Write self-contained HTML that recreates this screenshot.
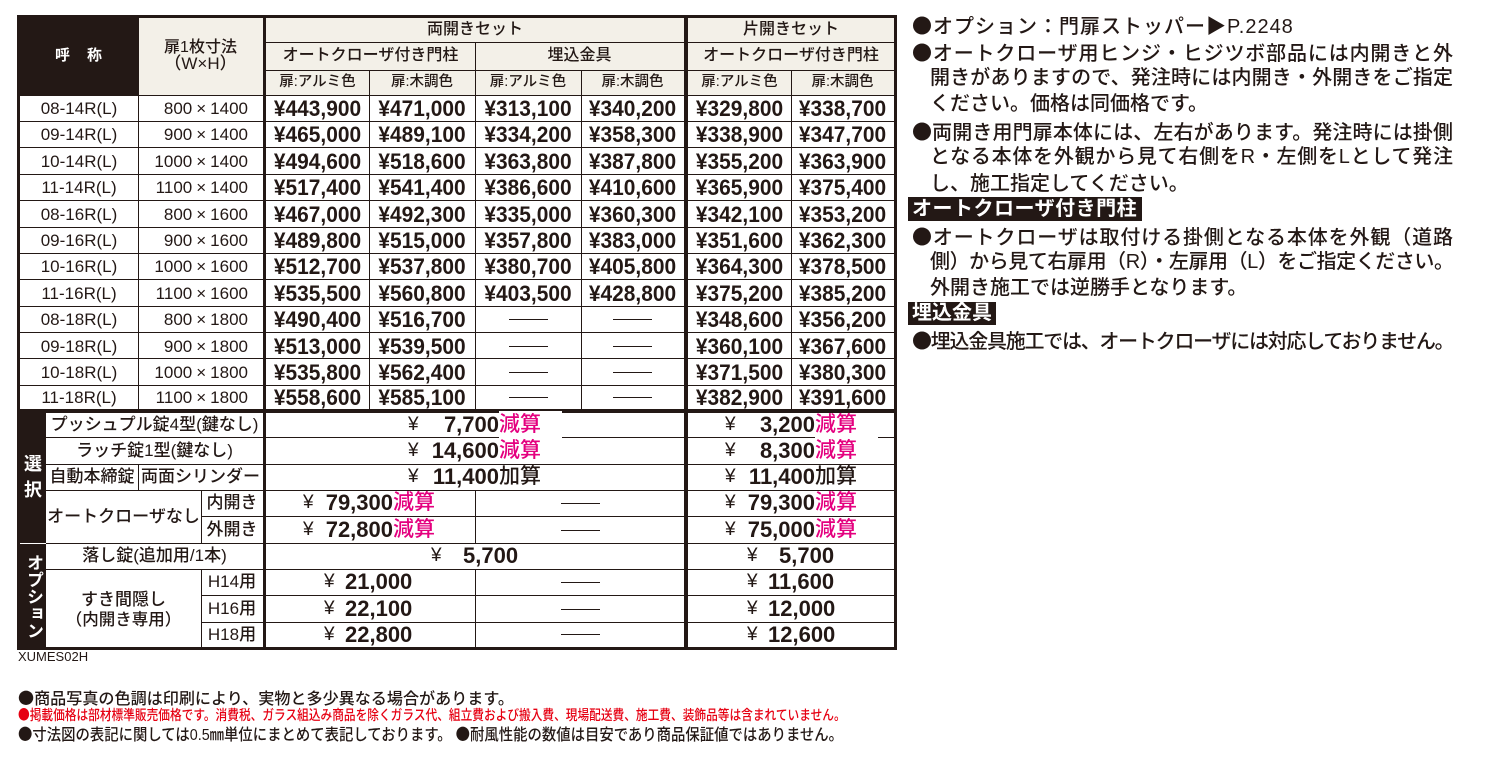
<!DOCTYPE html>
<html><head><meta charset="utf-8">
<style>
*{margin:0;padding:0;box-sizing:border-box}
body{width:1490px;height:767px;overflow:hidden;background:#fff;position:relative;font-family:"Liberation Sans","Noto Sans CJK JP",sans-serif;color:#231815;font-weight:500}
.b{font-family:"Noto Sans CJK JP",sans-serif}
.a{position:absolute;white-space:nowrap}
.h{position:absolute;height:1px;background:#231815}
.v{position:absolute;width:1px;background:#231815}
.bk{position:absolute;background:#231815}
.cr{position:absolute;background:#f3f0e8}
.r{position:absolute;left:0;width:900px;height:26.4px}
.r>div{position:absolute;top:0;height:26.4px;line-height:27px;text-align:center;white-space:nowrap}
.k1{left:20px;width:118px;font-size:17px}
.k2{left:138px;width:110px;font-size:17px;text-align:right!important}
.p{font-weight:bold;font-size:22px;transform:scaleX(0.95)}
.p1{left:266px;width:103px}.p2{left:369px;width:106px}.p3{left:475px;width:106px}.p4{left:581px;width:103px}.p5{left:688px;width:103px}.p6{left:791px;width:103px}
.x{margin:0 4px}
.d{display:inline-block;width:39px;height:1px;background:#231815;vertical-align:middle}
.hd{position:absolute;text-align:center;white-space:nowrap;font-size:16px}
.sh{position:absolute;text-align:center;white-space:nowrap;font-size:14.5px;top:70px;height:25px;line-height:25px}
.s{position:absolute;white-space:nowrap;text-align:center;font-size:17px}
.y{position:absolute;font-size:19px;white-space:nowrap;font-weight:normal}
.nm{position:absolute;font-weight:bold;font-size:22px;white-space:nowrap}
.nr{position:absolute;font-weight:bold;font-size:22px;white-space:nowrap;width:80px;text-align:right}
.g{position:absolute;font-size:21px;color:#e4007f;white-space:nowrap}
.gk{position:absolute;font-size:21px;white-space:nowrap}
.dd{position:absolute;width:39px;height:1px;background:#231815}
.n{position:absolute;font-size:20px;line-height:26px;height:26px}
.j{text-align:justify;text-align-last:justify}
.lb{position:absolute;background:#231815;color:#fff;font-size:20px;font-weight:bold;white-space:nowrap;padding-left:4px}
.f{position:absolute;white-space:nowrap;transform-origin:0 50%}
</style></head>
<body>

<!-- backgrounds -->
<div class="bk" style="left:20px;top:18px;width:118px;height:77px"></div>
<div class="cr" style="left:138px;top:18px;width:125px;height:77px"></div>
<div class="cr" style="left:266px;top:18px;width:418px;height:77px"></div>
<div class="cr" style="left:688px;top:18px;width:206px;height:77px"></div>
<div class="bk" style="left:20px;top:412px;width:26px;height:235px"></div>

<!-- outer frame -->
<div class="bk" style="left:17px;top:15px;width:880px;height:3px"></div>
<div class="bk" style="left:17px;top:647px;width:880px;height:3px"></div>
<div class="bk" style="left:17px;top:15px;width:3px;height:635px"></div>
<div class="bk" style="left:894px;top:15px;width:3px;height:635px"></div>

<!-- thick verticals -->
<div class="bk" style="left:263px;top:18px;width:3px;height:629px"></div>
<div class="bk" style="left:684px;top:18px;width:4px;height:629px"></div>

<!-- thin verticals -->
<div class="v" style="left:138px;top:18px;height:392px"></div>
<div class="v" style="left:138px;top:464px;height:26px"></div>
<div class="v" style="left:369px;top:70px;height:340px"></div>
<div class="v" style="left:475px;top:42px;height:368px"></div>
<div class="v" style="left:475px;top:490px;height:53px"></div>
<div class="v" style="left:475px;top:569px;height:78px"></div>
<div class="v" style="left:581px;top:70px;height:340px"></div>
<div class="v" style="left:791px;top:70px;height:340px"></div>
<div class="v" style="left:201px;top:490px;height:53px"></div>
<div class="v" style="left:201px;top:569px;height:78px"></div>

<!-- horizontals header -->
<div class="h" style="left:266px;top:42px;width:628px"></div>
<div class="h" style="left:266px;top:70px;width:628px"></div>
<div class="h" style="left:20px;top:95px;width:874px"></div>
<!-- data rows -->
<div class="h" style="left:20px;top:121px;width:874px"></div>
<div class="h" style="left:20px;top:147px;width:874px"></div>
<div class="h" style="left:20px;top:174px;width:874px"></div>
<div class="h" style="left:20px;top:200px;width:874px"></div>
<div class="h" style="left:20px;top:227px;width:874px"></div>
<div class="h" style="left:20px;top:253px;width:874px"></div>
<div class="h" style="left:20px;top:279px;width:874px"></div>
<div class="h" style="left:20px;top:306px;width:874px"></div>
<div class="h" style="left:20px;top:332px;width:874px"></div>
<div class="h" style="left:20px;top:358px;width:874px"></div>
<div class="h" style="left:20px;top:385px;width:874px"></div>
<!-- thick separator -->
<div class="bk" style="left:20px;top:409px;width:874px;height:2px"></div>
<div class="bk" style="left:20px;top:411px;width:479px;height:1.5px"></div>
<div class="bk" style="left:562px;top:411px;width:332px;height:1.5px"></div>
<!-- selection rows -->
<div class="h" style="left:46px;top:437px;width:453px"></div>
<div class="h" style="left:562px;top:437px;width:253px"></div>
<div class="h" style="left:878px;top:437px;width:16px"></div>
<div class="h" style="left:46px;top:464px;width:848px"></div>
<div class="h" style="left:46px;top:490px;width:848px"></div>
<div class="h" style="left:201px;top:516px;width:693px"></div>
<div class="h" style="left:46px;top:543px;width:848px"></div>
<div style="position:absolute;left:20px;top:542.5px;width:26px;height:1.5px;background:#fff"></div>
<div class="h" style="left:46px;top:569px;width:848px"></div>
<div class="h" style="left:201px;top:595px;width:693px"></div>
<div class="h" style="left:201px;top:622px;width:693px"></div>

<!-- header texts -->
<div class="hd" style="left:20px;width:118px;top:44px;height:24px;line-height:24px;color:#fff;font-weight:bold;font-size:15px;letter-spacing:1px">呼　称</div>
<div class="hd" style="left:138px;width:125px;top:38px;height:20px;line-height:20px">扉1枚寸法</div>
<div class="hd" style="left:138px;width:125px;top:54px;height:20px;line-height:20px;font-size:17px">（W×H）</div>
<div class="hd" style="left:266px;width:418px;top:18px;height:24px;line-height:24px">両開きセット</div>
<div class="hd" style="left:688px;width:206px;top:18px;height:24px;line-height:24px">片開きセット</div>
<div class="hd" style="left:266px;width:209px;top:42px;height:28px;line-height:28px">オートクローザ付き門柱</div>
<div class="hd" style="left:475px;width:209px;top:42px;height:28px;line-height:28px">埋込金具</div>
<div class="hd" style="left:688px;width:206px;top:42px;height:28px;line-height:28px">オートクローザ付き門柱</div>
<div class="sh p1">扉:アルミ色</div><div class="sh p2">扉:木調色</div>
<div class="sh p3">扉:アルミ色</div><div class="sh p4">扉:木調色</div>
<div class="sh p5">扉:アルミ色</div><div class="sh p6">扉:木調色</div>

<!-- data rows -->
<div class="r" style="top:95px"><div class="k1">08-14R(L)</div><div class="k2">800<span class="x">×</span>1400</div><div class="p p1">¥443,900</div><div class="p p2">¥471,000</div><div class="p p3">¥313,100</div><div class="p p4">¥340,200</div><div class="p p5">¥329,800</div><div class="p p6">¥338,700</div></div>
<div class="r" style="top:121.4px"><div class="k1">09-14R(L)</div><div class="k2">900<span class="x">×</span>1400</div><div class="p p1">¥465,000</div><div class="p p2">¥489,100</div><div class="p p3">¥334,200</div><div class="p p4">¥358,300</div><div class="p p5">¥338,900</div><div class="p p6">¥347,700</div></div>
<div class="r" style="top:147.8px"><div class="k1">10-14R(L)</div><div class="k2">1000<span class="x">×</span>1400</div><div class="p p1">¥494,600</div><div class="p p2">¥518,600</div><div class="p p3">¥363,800</div><div class="p p4">¥387,800</div><div class="p p5">¥355,200</div><div class="p p6">¥363,900</div></div>
<div class="r" style="top:174.2px"><div class="k1">11-14R(L)</div><div class="k2">1100<span class="x">×</span>1400</div><div class="p p1">¥517,400</div><div class="p p2">¥541,400</div><div class="p p3">¥386,600</div><div class="p p4">¥410,600</div><div class="p p5">¥365,900</div><div class="p p6">¥375,400</div></div>
<div class="r" style="top:200.6px"><div class="k1">08-16R(L)</div><div class="k2">800<span class="x">×</span>1600</div><div class="p p1">¥467,000</div><div class="p p2">¥492,300</div><div class="p p3">¥335,000</div><div class="p p4">¥360,300</div><div class="p p5">¥342,100</div><div class="p p6">¥353,200</div></div>
<div class="r" style="top:227px"><div class="k1">09-16R(L)</div><div class="k2">900<span class="x">×</span>1600</div><div class="p p1">¥489,800</div><div class="p p2">¥515,000</div><div class="p p3">¥357,800</div><div class="p p4">¥383,000</div><div class="p p5">¥351,600</div><div class="p p6">¥362,300</div></div>
<div class="r" style="top:253.4px"><div class="k1">10-16R(L)</div><div class="k2">1000<span class="x">×</span>1600</div><div class="p p1">¥512,700</div><div class="p p2">¥537,800</div><div class="p p3">¥380,700</div><div class="p p4">¥405,800</div><div class="p p5">¥364,300</div><div class="p p6">¥378,500</div></div>
<div class="r" style="top:279.8px"><div class="k1">11-16R(L)</div><div class="k2">1100<span class="x">×</span>1600</div><div class="p p1">¥535,500</div><div class="p p2">¥560,800</div><div class="p p3">¥403,500</div><div class="p p4">¥428,800</div><div class="p p5">¥375,200</div><div class="p p6">¥385,200</div></div>
<div class="r" style="top:306.2px"><div class="k1">08-18R(L)</div><div class="k2">800<span class="x">×</span>1800</div><div class="p p1">¥490,400</div><div class="p p2">¥516,700</div><div class="p3"><span class="d"></span></div><div class="p4"><span class="d"></span></div><div class="p p5">¥348,600</div><div class="p p6">¥356,200</div></div>
<div class="r" style="top:332.6px"><div class="k1">09-18R(L)</div><div class="k2">900<span class="x">×</span>1800</div><div class="p p1">¥513,000</div><div class="p p2">¥539,500</div><div class="p3"><span class="d"></span></div><div class="p4"><span class="d"></span></div><div class="p p5">¥360,100</div><div class="p p6">¥367,600</div></div>
<div class="r" style="top:359px"><div class="k1">10-18R(L)</div><div class="k2">1000<span class="x">×</span>1800</div><div class="p p1">¥535,800</div><div class="p p2">¥562,400</div><div class="p3"><span class="d"></span></div><div class="p4"><span class="d"></span></div><div class="p p5">¥371,500</div><div class="p p6">¥380,300</div></div>
<div class="r" style="top:385.4px;height:24px"><div class="k1" style="height:24px;line-height:25px">11-18R(L)</div><div class="k2" style="height:24px;line-height:25px">1100<span class="x">×</span>1800</div><div class="p p1" style="height:24px;line-height:25px">¥558,600</div><div class="p p2" style="height:24px;line-height:25px">¥585,100</div><div class="p3" style="height:24px;line-height:24px"><span class="d"></span></div><div class="p4" style="height:24px;line-height:24px"><span class="d"></span></div><div class="p p5" style="height:24px;line-height:25px">¥382,900</div><div class="p p6" style="height:24px;line-height:25px">¥391,600</div></div>

<!-- vertical labels -->
<div class="a" style="left:20px;width:26px;top:453px;height:22px;line-height:22px;text-align:center;color:#fff;font-weight:bold;font-size:18px">選</div>
<div class="a" style="left:20px;width:26px;top:479px;height:22px;line-height:22px;text-align:center;color:#fff;font-weight:bold;font-size:18px">択</div>
<div class="a" style="left:20px;width:26px;top:552px;height:88px;color:#fff;font-weight:bold;font-size:17px;line-height:26px;writing-mode:vertical-rl;text-orientation:upright;text-align:center">オプション</div>

<!-- selection labels -->
<div class="s" style="left:46px;width:217px;top:412px;height:25px;line-height:25px">プッシュプル錠4型(鍵なし)</div>
<div class="s" style="left:46px;width:217px;top:437px;height:27px;line-height:27px">ラッチ錠1型(鍵なし)</div>
<div class="s" style="left:46px;width:92px;top:464px;height:26px;line-height:26px">自動本締錠</div>
<div class="s" style="left:138px;width:125px;top:464px;height:26px;line-height:26px">両面シリンダー</div>
<div class="s" style="left:46px;width:155px;top:490px;height:53px;line-height:53px">オートクローザなし</div>
<div class="s" style="left:201px;width:62px;top:490px;height:26.5px;line-height:26.5px">内開き</div>
<div class="s" style="left:201px;width:62px;top:516.5px;height:26.5px;line-height:26.5px">外開き</div>
<div class="s" style="left:46px;width:217px;top:543px;height:26px;line-height:26px">落し錠(追加用/1本)</div>
<div class="s" style="left:46px;width:155px;top:590px;height:20px;line-height:20px">すき間隠し</div>
<div class="s" style="left:46px;width:155px;top:610px;height:20px;line-height:20px;font-size:16.5px">（内開き専用）</div>
<div class="s" style="left:201px;width:62px;top:569px;height:26.5px;line-height:26.5px">H14用</div>
<div class="s" style="left:201px;width:62px;top:595.5px;height:26.5px;line-height:26.5px">H16用</div>
<div class="s" style="left:201px;width:62px;top:622px;height:25px;line-height:25px">H18用</div>

<!-- selection values row0 -->
<div class="y" style="left:408px;top:412px;line-height:25px">¥</div>
<div class="nr" style="left:419px;top:412px;line-height:25px">7,700</div>
<div class="g" style="left:499px;top:412px;line-height:25px">減算</div>
<div class="y" style="left:725px;top:412px;line-height:25px">¥</div>
<div class="nr" style="left:735px;top:412px;line-height:25px">3,200</div>
<div class="g" style="left:815px;top:412px;line-height:25px">減算</div>
<!-- row1 -->
<div class="y" style="left:408px;top:437px;line-height:27px">¥</div>
<div class="nr" style="left:419px;top:437px;line-height:27px">14,600</div>
<div class="g" style="left:499px;top:437px;line-height:27px">減算</div>
<div class="y" style="left:725px;top:437px;line-height:27px">¥</div>
<div class="nr" style="left:735px;top:437px;line-height:27px">8,300</div>
<div class="g" style="left:815px;top:437px;line-height:27px">減算</div>
<!-- row2 -->
<div class="y" style="left:408px;top:464px;line-height:26px">¥</div>
<div class="nr" style="left:419px;top:464px;line-height:26px">11,400</div>
<div class="gk" style="left:499px;top:464px;line-height:26px">加算</div>
<div class="y" style="left:725px;top:464px;line-height:26px">¥</div>
<div class="nr" style="left:735px;top:464px;line-height:26px">11,400</div>
<div class="gk" style="left:815px;top:464px;line-height:26px">加算</div>
<!-- row3 -->
<div class="y" style="left:303px;top:490px;line-height:26.5px">¥</div>
<div class="nr" style="left:313px;top:490px;line-height:26.5px">79,300</div>
<div class="g" style="left:393px;top:490px;line-height:26.5px">減算</div>
<div class="dd" style="left:561px;top:503px"></div>
<div class="y" style="left:725px;top:490px;line-height:26.5px">¥</div>
<div class="nr" style="left:735px;top:490px;line-height:26.5px">79,300</div>
<div class="g" style="left:815px;top:490px;line-height:26.5px">減算</div>
<!-- row4 -->
<div class="y" style="left:303px;top:516.5px;line-height:26.5px">¥</div>
<div class="nr" style="left:313px;top:516.5px;line-height:26.5px">72,800</div>
<div class="g" style="left:393px;top:516.5px;line-height:26.5px">減算</div>
<div class="dd" style="left:561px;top:530px"></div>
<div class="y" style="left:725px;top:516.5px;line-height:26.5px">¥</div>
<div class="nr" style="left:735px;top:516.5px;line-height:26.5px">75,000</div>
<div class="g" style="left:815px;top:516.5px;line-height:26.5px">減算</div>
<!-- row5 -->
<div class="y" style="left:431px;top:543px;line-height:26px">¥</div>
<div class="nm" style="left:463px;top:543px;line-height:26px">5,700</div>
<div class="y" style="left:747px;top:543px;line-height:26px">¥</div>
<div class="nm" style="left:779px;top:543px;line-height:26px">5,700</div>
<!-- row6 -->
<div class="y" style="left:324px;top:569px;line-height:26.5px">¥</div>
<div class="nm" style="left:345px;top:569px;line-height:26.5px">21,000</div>
<div class="dd" style="left:561px;top:582px"></div>
<div class="y" style="left:747px;top:569px;line-height:26.5px">¥</div>
<div class="nm" style="left:768px;top:569px;line-height:26.5px">11,600</div>
<!-- row7 -->
<div class="y" style="left:324px;top:595.5px;line-height:26.5px">¥</div>
<div class="nm" style="left:345px;top:595.5px;line-height:26.5px">22,100</div>
<div class="dd" style="left:561px;top:609px"></div>
<div class="y" style="left:747px;top:595.5px;line-height:26.5px">¥</div>
<div class="nm" style="left:768px;top:595.5px;line-height:26.5px">12,000</div>
<!-- row8 -->
<div class="y" style="left:324px;top:622px;line-height:25px">¥</div>
<div class="nm" style="left:345px;top:622px;line-height:25px">22,800</div>
<div class="dd" style="left:561px;top:634px"></div>
<div class="y" style="left:747px;top:622px;line-height:25px">¥</div>
<div class="nm" style="left:768px;top:622px;line-height:25px">12,600</div>

<!-- right notes -->
<div class="n" style="left:912px;top:12px;white-space:nowrap;letter-spacing:1px"><span class="b">●</span>オプション：門扉ストッパー▶P.2248</div>
<div class="n j" style="left:912px;top:38.5px;width:541px"><span class="b">●</span>オートクローザ用ヒンジ・ヒジツボ部品には内開きと外</div>
<div class="n j" style="left:930px;top:65px;width:523px">開きがありますので、発注時には内開き・外開きをご指定</div>
<div class="n" style="left:930px;top:91px;white-space:nowrap">ください。価格は同価格です。</div>
<div class="n j" style="left:912px;top:117.5px;width:541px"><span class="b">●</span>両開き用門扉本体には、左右があります。発注時には掛側</div>
<div class="n j" style="left:930px;top:144px;width:523px">となる本体を外観から見て右側をR・左側をLとして発注</div>
<div class="n" style="left:930px;top:170.5px;white-space:nowrap">し、施工指定してください。</div>
<div class="lb" style="left:908px;top:197px;width:234px;height:24px;line-height:24px;letter-spacing:0.5px">オートクローザ付き門柱</div>
<div class="n j" style="left:912px;top:223px;width:541px"><span class="b">●</span>オートクローザは取付ける掛側となる本体を外観（道路</div>
<div class="n j" style="left:930px;top:248.5px;width:523px;letter-spacing:-1px">側）から見て右扉用（R）・左扉用（L）をご指定ください。</div>
<div class="n" style="left:930px;top:274.5px;white-space:nowrap">外開き施工では逆勝手となります。</div>
<div class="lb" style="left:908px;top:302px;width:88px;height:23px;line-height:23px">埋込金具</div>
<div class="n j" style="left:912px;top:327px;width:541px;letter-spacing:-1.6px"><span class="b">●</span>埋込金具施工では、オートクローザには対応しておりません。</div>

<!-- footer -->
<div class="a" style="left:18px;top:648px;font-size:13px;line-height:18px;font-weight:normal">XUMES02H</div>
<div class="f" style="left:18px;top:688px;font-size:16px;line-height:19px;transform:scaleX(1.005)"><span class="b">●</span>商品写真の色調は印刷により、実物と多少異なる場合があります。</div>
<div class="f" style="left:18px;top:707px;font-size:14px;line-height:17px;color:#e60012;transform:scaleX(0.835)"><span class="b">●</span>掲載価格は部材標準販売価格です。消費税、ガラス組込み商品を除くガラス代、組立費および搬入費、現場配送費、施工費、装飾品等は含まれていません。</div>
<div class="f" style="left:18px;top:724px;font-size:16px;line-height:19px;transform:scaleX(0.898)"><span class="b">●</span>寸法図の表記に関しては0.5㎜単位にまとめて表記しております。 <span class="b">●</span>耐風性能の数値は目安であり商品保証値ではありません。</div>

</body></html>
